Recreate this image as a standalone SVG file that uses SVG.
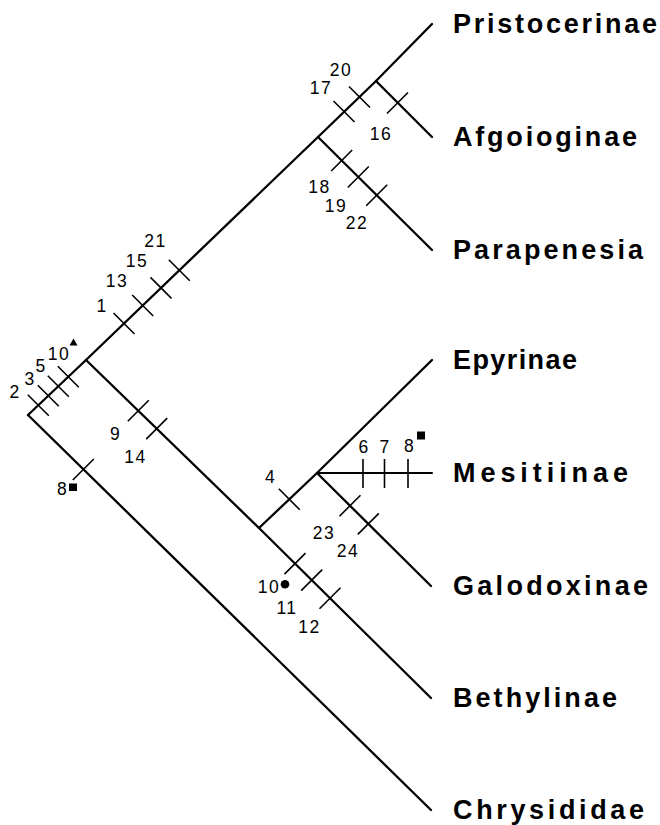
<svg xmlns="http://www.w3.org/2000/svg" width="660" height="825" viewBox="0 0 660 825">
<style>
.br{fill:none;stroke:#000;stroke-width:2.3;stroke-linecap:round;stroke-linejoin:miter}
.tk{fill:none;stroke:#000;stroke-width:1.6}
.tx{font-family:"Liberation Sans",Arial,sans-serif;font-weight:bold;font-size:27px;fill:#000}
.ch{font-family:"Liberation Sans",Arial,sans-serif;font-size:17.5px;letter-spacing:1.5px;fill:#000;text-anchor:middle}
</style>
<rect width="660" height="825" fill="#fff"/>
<g id="connectors">
<polyline class="br" points="28,415 86,360 318,137 376,81 432,24"/>
<polyline class="br" points="376,81 432,137"/>
<polyline class="br" points="318,137 432,250"/>
<polyline class="br" points="86,360 259,528 431,698"/>
<polyline class="br" points="259,528 317,473 432,360"/>
<polyline class="br" points="317,473 432,473" style="stroke-width:2"/>
<polyline class="br" points="317,473 431,586"/>
<polyline class="br" points="28,415 431,810"/>
</g>
<g id="characters">
<path class="tk" d="M27.8,394.7L48.8,415.7M37.8,385.2L58.8,406.2M47.8,375.7L68.8,396.7M57.8,366.2L78.8,387.2"/>
<path class="tk" d="M113.5,313L134.5,334M132.2,295L153.2,316M150.5,277.4L171.5,298.4M168.8,259.8L189.8,280.8"/>
<path class="tk" d="M333.5,101L354.5,122M349,86.5L370,107.5M387,113.5L408,92.5"/>
<path class="tk" d="M331.2,171L352.2,150M347.8,187.5L368.8,166.5M366.2,205.7L387.2,184.7"/>
<path class="tk" d="M127.8,421.3L148.8,400.3M146.2,439.1L167.2,418.1M72.8,480L93.8,459"/>
<path class="tk" d="M278.8,488.8L299.8,509.8M339.5,516.2L360.5,495.2M357.8,534.4L378.8,513.4"/>
<path class="tk" d="M284.5,574.1L305.5,553.1M301.2,590.6L322.2,569.6M319.5,608.7L340.5,587.7"/>
<path class="tk" d="M363,459L363,488M384.5,459L384.5,488M408,459L408,488"/>
<text class="ch" x="15" y="398">2</text>
<text class="ch" x="30" y="385">3</text>
<text class="ch" x="41" y="371.5">5</text>
<text class="ch" x="59" y="360">10</text>
<polygon points="73.5,338.5 69.5,345.5 77.5,345.5" fill="#000"/>
<text class="ch" x="102" y="311.5">1</text>
<text class="ch" x="117" y="286.5">13</text>
<text class="ch" x="137" y="267">15</text>
<text class="ch" x="155.5" y="246.5">21</text>
<text class="ch" x="321" y="94">17</text>
<text class="ch" x="341" y="75.5">20</text>
<text class="ch" x="381" y="140">16</text>
<text class="ch" x="319.5" y="192.5">18</text>
<text class="ch" x="336" y="212">19</text>
<text class="ch" x="357" y="229">22</text>
<text class="ch" x="115.5" y="440">9</text>
<text class="ch" x="135.5" y="462.5">14</text>
<text class="ch" x="62.5" y="494.5">8</text>
<rect x="69" y="483.5" width="8" height="7.5" fill="#000"/>
<text class="ch" x="270.5" y="483">4</text>
<text class="ch" x="364" y="453">6</text>
<text class="ch" x="385" y="452.5">7</text>
<text class="ch" x="409.5" y="451.5">8</text>
<rect x="417" y="431.5" width="8" height="8" fill="#000"/>
<text class="ch" x="324" y="539">23</text>
<text class="ch" x="348" y="556.5">24</text>
<text class="ch" x="269" y="593">10</text>
<circle cx="285" cy="584.2" r="4.3" fill="#000"/>
<text class="ch" x="287" y="613.5">11</text>
<text class="ch" x="309.5" y="632.5">12</text>
</g>
<g id="node-pristocerinae"><text class="tx" x="453" y="33" textLength="204" lengthAdjust="spacing">Pristocerinae</text></g>
<g id="node-afgoioginae"><text class="tx" x="453" y="146" textLength="184" lengthAdjust="spacing">Afgoioginae</text></g>
<g id="node-parapenesia"><text class="tx" x="453" y="259" textLength="190" lengthAdjust="spacing">Parapenesia</text></g>
<g id="node-epyrinae"><text class="tx" x="453" y="369" textLength="124" lengthAdjust="spacing">Epyrinae</text></g>
<g id="node-mesitiinae"><text class="tx" x="453" y="482" textLength="175" lengthAdjust="spacing">Mesitiinae</text></g>
<g id="node-galodoxinae"><text class="tx" x="453" y="595" textLength="195" lengthAdjust="spacing">Galodoxinae</text></g>
<g id="node-bethylinae"><text class="tx" x="453" y="707" textLength="164" lengthAdjust="spacing">Bethylinae</text></g>
<g id="node-chrysididae"><text class="tx" x="453" y="819" textLength="191" lengthAdjust="spacing">Chrysididae</text></g>
</svg>
